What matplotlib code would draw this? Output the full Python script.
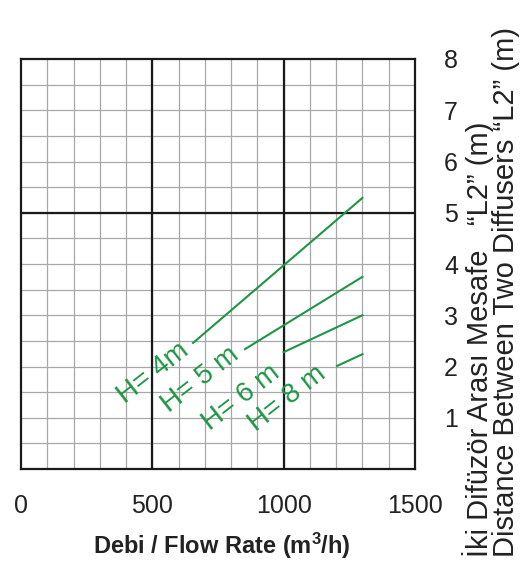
import matplotlib.pyplot as plt
import numpy as np

# flow rate (m3/h) and L2 distance (m) for each water depth H
h_labels = ["H= 4m", "H= 5 m", "H= 6 m", "H= 8 m"]
flow_start = [655, 853, 1000, 1203]
flow_end = [1300, 1300, 1300, 1300]
dist_start = [2.46, 2.34, 2.28, 2.01]
dist_end = [5.29, 3.75, 3.00, 2.24]

x_ticks = [0, 500, 1000, 1500]
y_ticks = [1, 2, 3, 4, 5, 6, 7, 8]

green = "#1e9646"
font = "Liberation Sans"

fig = plt.figure(figsize=(5.32, 5.69), dpi=100)
ax = fig.add_axes([21/532, 100/569, 394/532, 410/569])

# fine grid
for x in np.arange(100, 1500, 100):
    ax.axvline(x, color="#a8a8a8", lw=0.9, zorder=1)
for y in np.arange(0.5, 8, 0.5):
    ax.axhline(y, color="#a8a8a8", lw=0.9, zorder=1)
# heavy grid
for x in [500, 1000]:
    ax.axvline(x, color="#1a1a1a", lw=1.6, zorder=2)
ax.axhline(5, color="#1a1a1a", lw=1.6, zorder=2)

for i in range(len(h_labels)):
    ax.plot([flow_start[i], flow_end[i]], [dist_start[i], dist_end[i]],
            color=green, lw=1.5, zorder=3)

# labels sit just below-left of each line start
lab_x = [643, 834, 990, 1165]
lab_y = [2.26, 2.17, 1.83, 1.80]
for i in range(len(h_labels)):
    ax.text(lab_x[i], lab_y[i], h_labels[i], color=green, fontsize=20,
            family=font, rotation=38, rotation_mode="anchor",
            ha="right", va="baseline", zorder=4)

ax.set_xlim(0, 1500)
ax.set_ylim(0, 8)
for s in ax.spines.values():
    s.set_linewidth(1.6)
    s.set_color("#1a1a1a")
    s.set_zorder(5)

ax.set_xticks(x_ticks)
ax.set_xticklabels([str(v) for v in x_ticks], fontsize=18, family=font, color="#222222")
ax.set_yticks(y_ticks)
ax.set_yticklabels([str(v) for v in y_ticks], fontsize=18, family=font, color="#222222")
ax.yaxis.tick_right()
ax.tick_params(axis="both", length=0)
ax.tick_params(axis="x", pad=18)
ax.tick_params(axis="y", pad=21)

plt.rcParams["mathtext.default"] = "regular"
fig.text(222/532, 1 - 546/569, "Debi / Flow Rate (m$^{3}$/h)",
         fontsize=17, fontweight="bold", family=font,
         color="#222222", ha="center", va="center")

ylab = ("İki Difüzör Arası Mesafe   \u201cL2\u201d (m)\n"
        "Distance Between Two Diffusers \u201cL2\u201d (m)")
fig.text(491/532, 1 - 557/569, ylab, fontsize=21, family=font,
         color="#222222", rotation=90, ha="center", va="bottom",
         multialignment="left", linespacing=0.88)

fig.savefig("out.png", dpi=100)
